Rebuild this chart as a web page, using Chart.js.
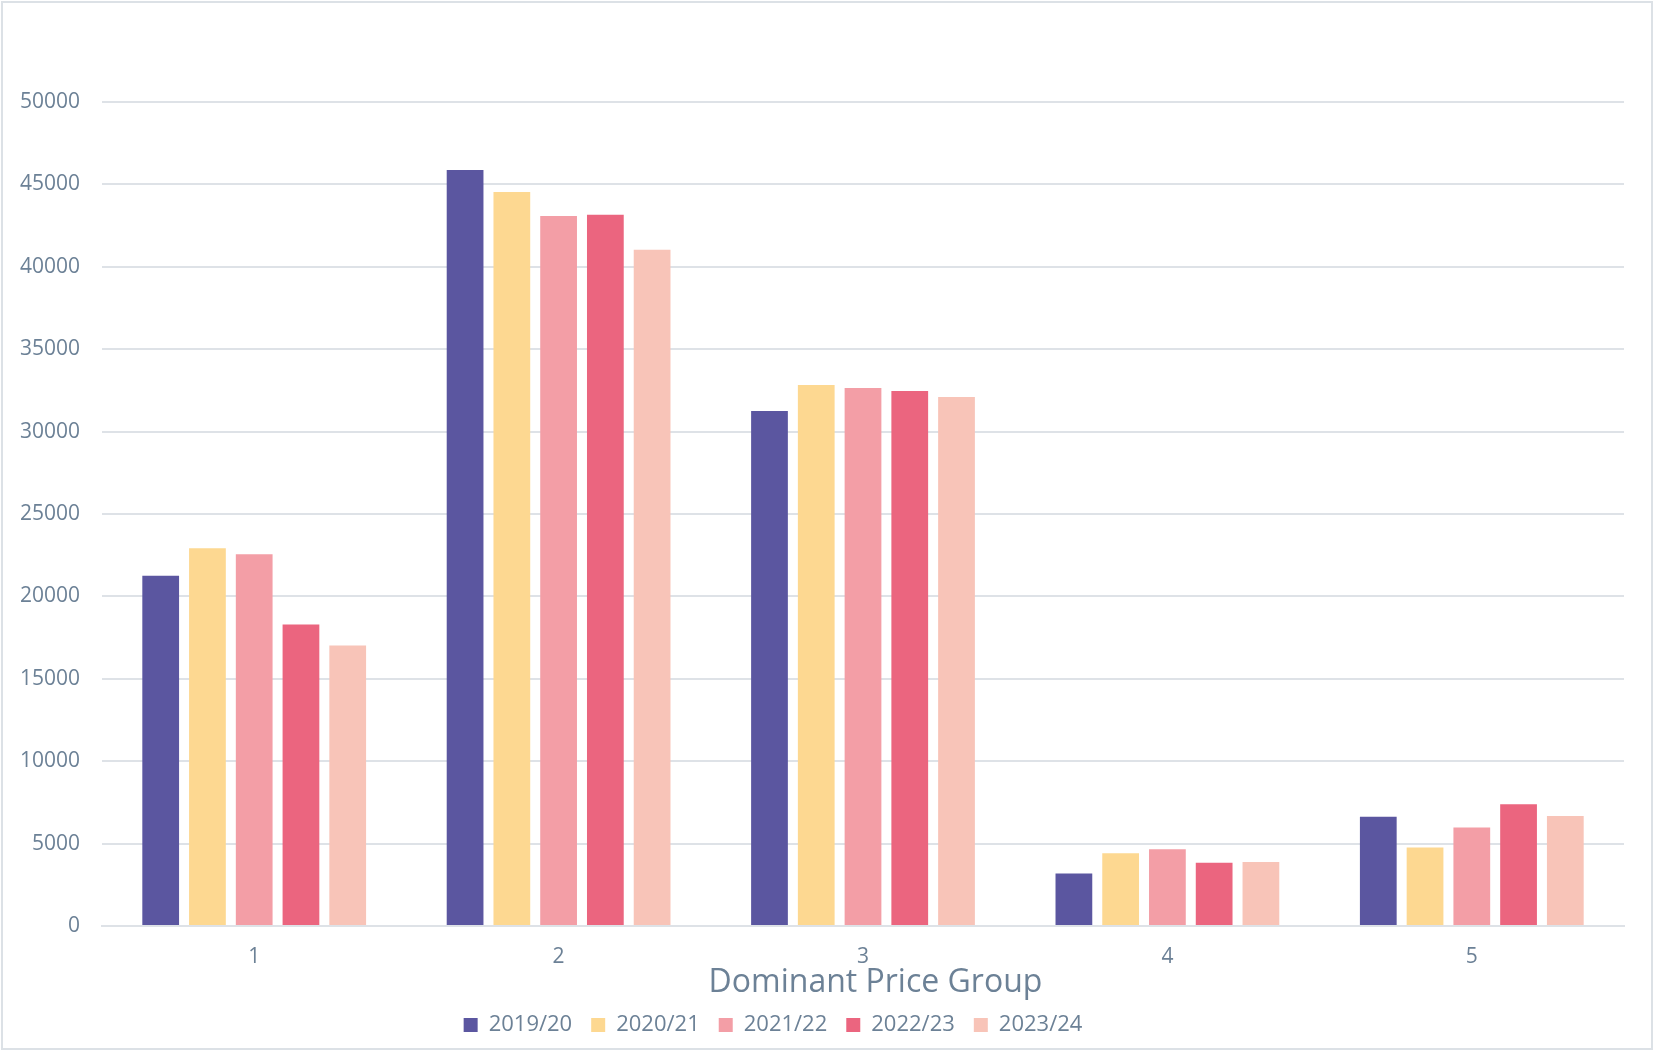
<!DOCTYPE html>
<html>
<head>
<meta charset="utf-8">
<script src="https://cdn.jsdelivr.net/npm/chart.js@4.4.1/dist/chart.umd.min.js"></script>
<style>
  html, body { margin: 0; padding: 0; background: #fff; }
  #wrap { width: 1653px; height: 1050px; position: relative; }
</style>
</head>
<body>
<div id="wrap"><canvas id="chart"></canvas></div>
<script>
// dados do gráfico
const categories = ['1', '2', '3', '4', '5'];
const seriesNames = ['2019/20', '2020/21', '2021/22', '2022/23', '2023/24'];
const values2019 = [21250, 45870, 31250, 3190, 6630];
const values2020 = [22920, 44540, 32830, 4420, 4770];
const values2021 = [22560, 43080, 32650, 4650, 5980];
const values2022 = [18290, 43160, 32470, 3840, 7390];
const values2023 = [17020, 41040, 32100, 3880, 6670];
const colors = ['#5B56A0', '#FDD891', '#F39EA6', '#EB657F', '#F8C4B8'];

const textColor = '#6C8196';
const gridColor = '#DEE2E7';

const allValues = [values2019, values2020, values2021, values2022, values2023];

// moldura cinza em volta do gráfico + legenda um pouco à esquerda
const frame = {
    id: 'frame',
    afterLayout(chart) {
        const lg = chart.legend;
        lg.right = lg.left + lg.width - 96;
    },
    afterDraw(chart) {
        const ctx = chart.ctx;
        ctx.save();
        ctx.strokeStyle = '#DCE1E6';
        ctx.lineWidth = 2;
        ctx.strokeRect(2, 2, chart.width - 3, chart.height - 3);
        ctx.restore();
    }
};

Chart.defaults.font.family = '"Open Sans", sans-serif';
Chart.defaults.color = textColor;

new Chart(document.getElementById('chart').getContext('2d'), {
    type: 'bar',
    data: {
        labels: categories,
        datasets: seriesNames.map((name, i) => ({
            label: name,
            data: allValues[i],
            backgroundColor: colors[i],
            borderWidth: 0,
            barPercentage: 0.786,
            categoryPercentage: 0.768
        }))
    },
    options: {
        responsive: true,
        maintainAspectRatio: false,
        animation: false,
        layout: { padding: { top: 102, left: 18, right: 29, bottom: 4 } },
        plugins: {
            legend: {
                position: 'bottom',
                labels: {
                    boxWidth: 14,
                    boxHeight: 14,
                    padding: 19,
                    color: textColor,
                    font: { size: 22 }
                }
            },
            tooltip: { enabled: false }
        },
        scales: {
            x: {
                grid: { display: false, drawTicks: false },
                border: { color: gridColor, width: 2 },
                ticks: { padding: 21, color: textColor, font: { size: 21, lineHeight: 1 } },
                title: {
                    display: true,
                    text: '   Dominant Price Group',
                    color: textColor,
                    font: { size: 32, lineHeight: 1 },
                    padding: { top: -22, bottom: -4 }
                }
            },
            y: {
                min: 0,
                max: 50000,
                afterFit(scale) { scale.width = 84; },
                grid: { color: gridColor, lineWidth: 2, drawTicks: false },
                border: { display: false },
                ticks: {
                    stepSize: 5000,
                    padding: 22,
                    color: textColor,
                    font: { size: 21 },
                    callback: (v) => String(v)
                }
            }
        }
    },
    plugins: [frame]
});
</script>
</body>
</html>
